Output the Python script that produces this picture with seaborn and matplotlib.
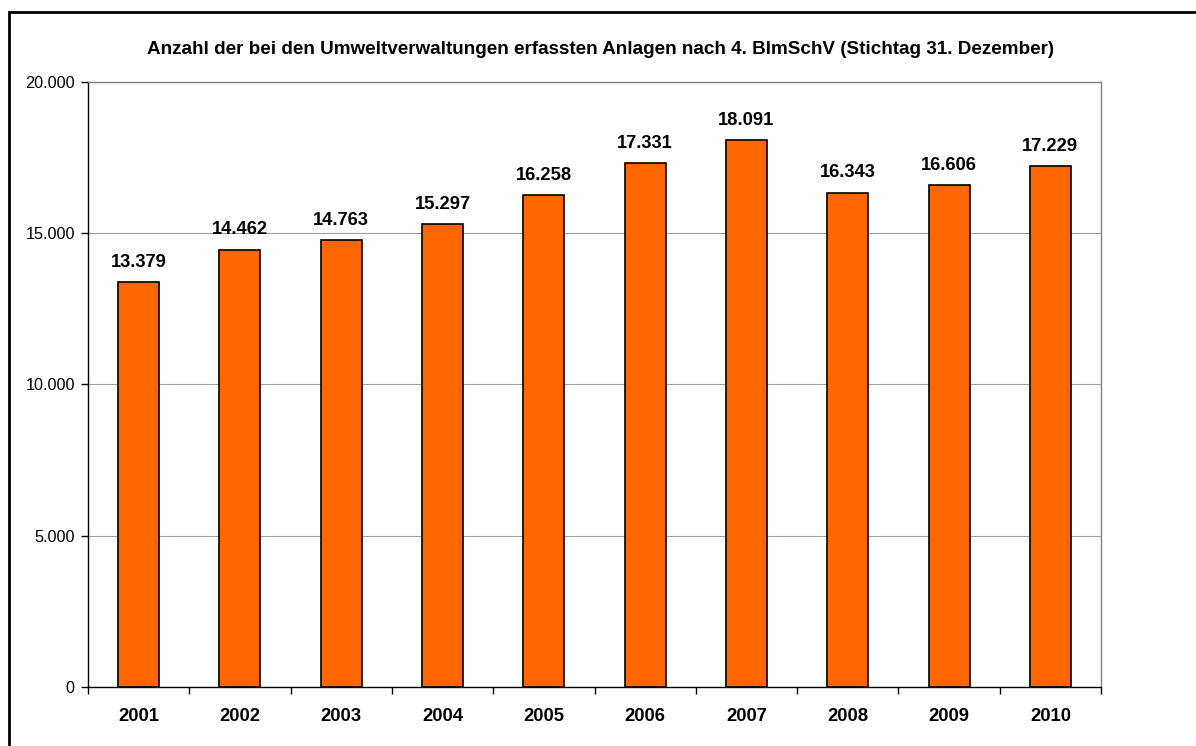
import matplotlib
matplotlib.use('Agg')
import matplotlib.pyplot as plt
import seaborn as sns
import pandas as pd
from matplotlib.patches import Rectangle
from matplotlib.ticker import FixedLocator, FuncFormatter

# data
years = ['2001', '2002', '2003', '2004', '2005', '2006', '2007', '2008', '2009', '2010']
anlagen = [13379, 14462, 14763, 15297, 16258, 17331, 18091, 16343, 16606, 17229]

title = 'Anzahl der bei den Umweltverwaltungen erfassten Anlagen nach 4. BImSchV (Stichtag 31. Dezember)'

sns.set_style('white')
plt.rcParams['font.family'] = ['Liberation Sans', 'DejaVu Sans']
plt.rcParams['text.color'] = 'black'
plt.rcParams['xtick.color'] = 'black'
plt.rcParams['ytick.color'] = 'black'

df = pd.DataFrame({'Jahr': years, 'Anzahl': anlagen})

fig = plt.figure(figsize=(11.96, 7.46), dpi=100)
ax = fig.add_axes([0.0736, 0.0791, 0.847, 0.811])

sns.barplot(data=df, x='Jahr', y='Anzahl', color='#FF6600', width=0.405,
            edgecolor='black', linewidth=1.2, saturation=1, ax=ax, zorder=3)

ax.set_ylim(0, 20000)
ax.set_xlim(-0.5, len(years) - 0.5)
ax.set_yticks([0, 5000, 10000, 15000, 20000])
ax.yaxis.set_major_formatter(FuncFormatter(lambda v, p: f'{int(v):,}'.replace(',', '.')))
ax.grid(axis='y', color='#a0a0a0', linewidth=0.8, zorder=0)
ax.set_xlabel('')
ax.set_ylabel('')

# ticks between categories
ax.xaxis.set_minor_locator(FixedLocator([i - 0.5 for i in range(len(years) + 1)]))
ax.tick_params(axis='x', which='major', bottom=True, length=0, pad=15, labelsize=13.3,
               labelcolor='black')
ax.tick_params(axis='x', which='minor', bottom=True, length=5, width=1, color='black',
               direction='out')
ax.tick_params(axis='y', left=True, length=5, width=1, color='black', direction='out',
               labelsize=11.7, pad=4.5, labelcolor='black')
for lab in ax.get_xticklabels():
    lab.set_fontweight('bold')

for side in ['top', 'right']:
    ax.spines[side].set_color('#808080')
    ax.spines[side].set_linewidth(1)
for side in ['left', 'bottom']:
    ax.spines[side].set_color('black')
    ax.spines[side].set_linewidth(1)

for i, v in enumerate(anlagen):
    ax.annotate(f'{v:,}'.replace(',', '.'), (i, v), xytext=(0, 8), textcoords='offset points',
                ha='center', va='bottom', fontsize=13.2, fontweight='bold', color='black')

fig.text(0.5025, 1 - 49 / 746, title, ha='center', va='center', fontsize=13.6,
         fontweight='bold', color='black')

# outer frame
fig.patches.append(Rectangle((9 / 1196, -0.01), 1.02, 1 - 12 / 746 + 0.01, transform=fig.transFigure,
                             fill=False, edgecolor='black', linewidth=2))

fig.savefig('out.png', dpi=100, facecolor='white')
